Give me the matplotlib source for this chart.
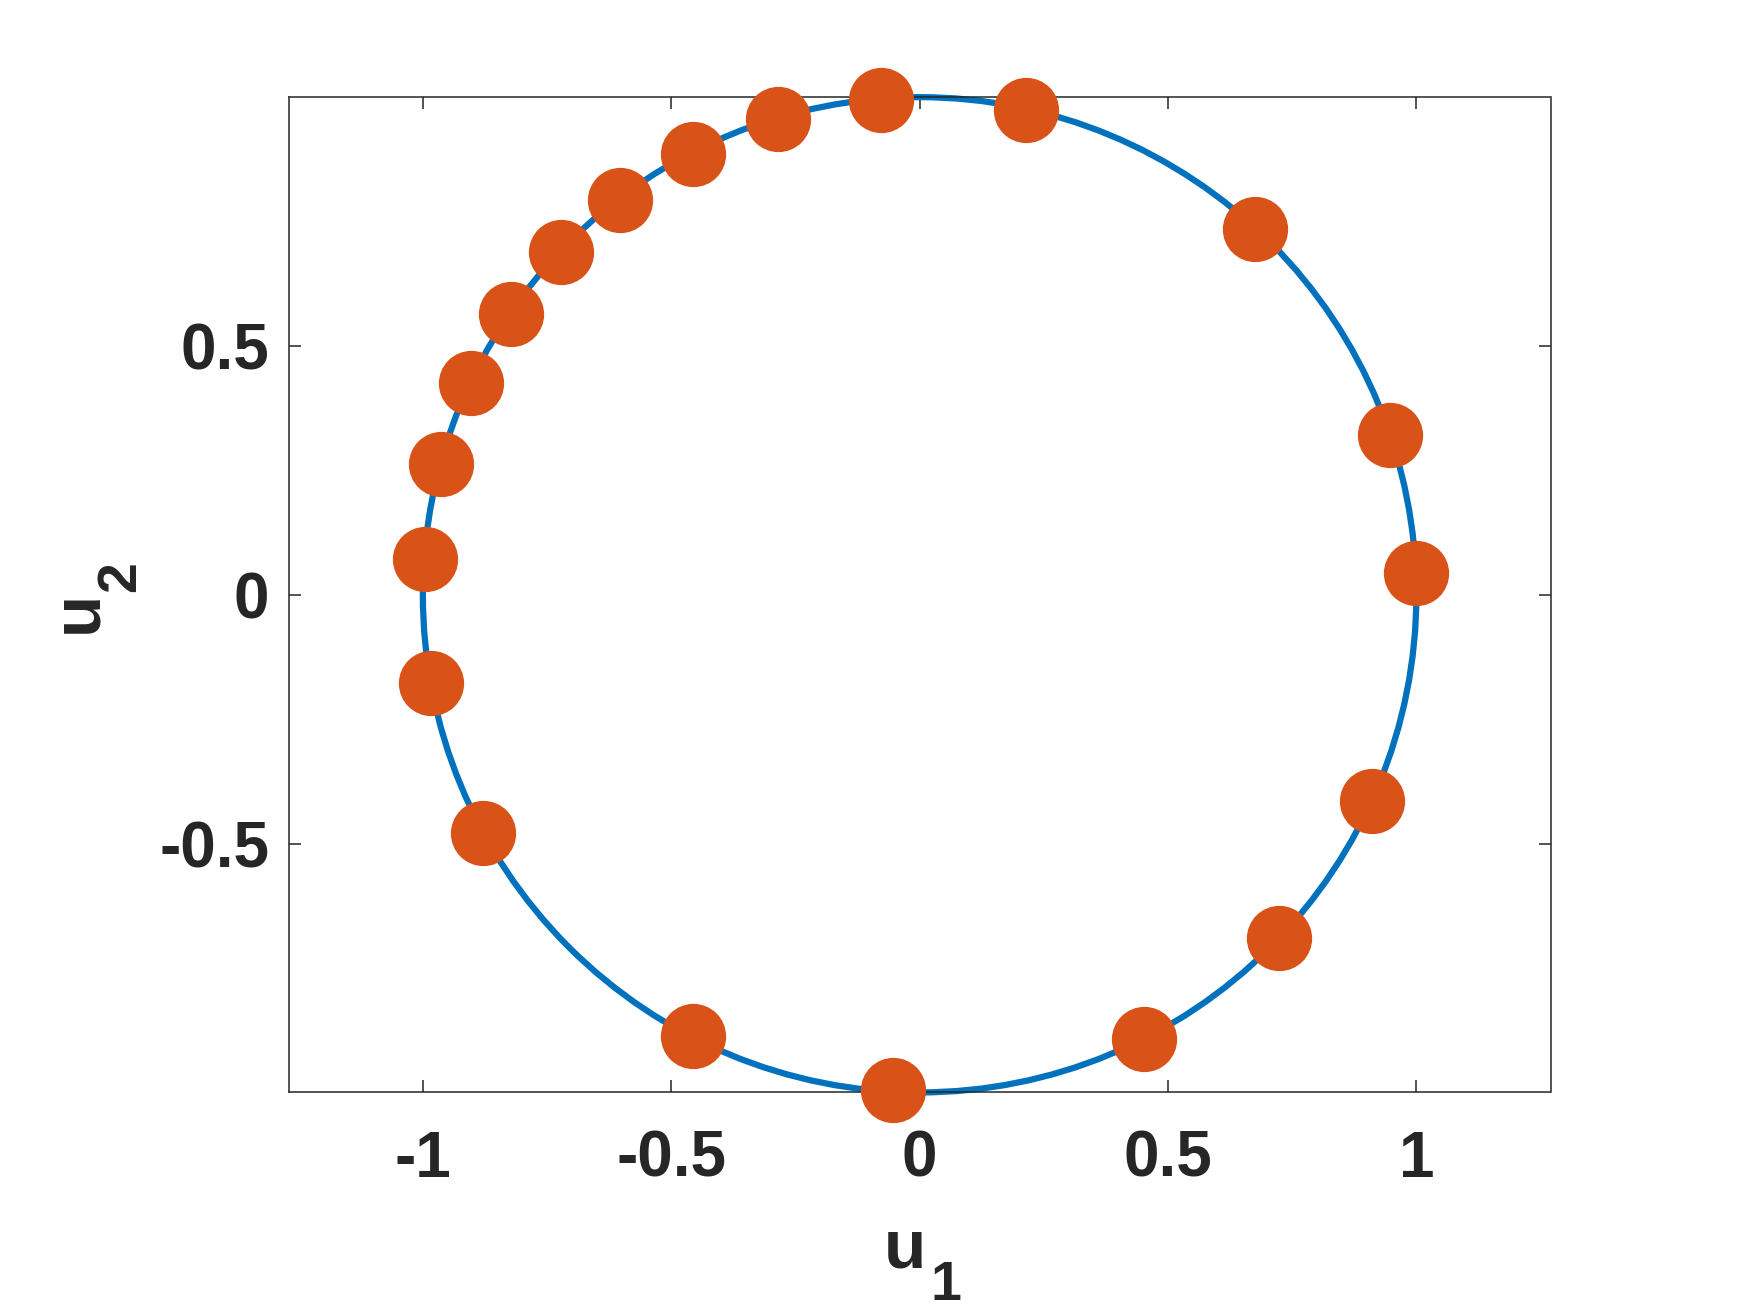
import matplotlib
matplotlib.use("Agg")
import matplotlib.pyplot as plt
from matplotlib.patches import Circle
from matplotlib import rcParams

rcParams['font.family'] = 'Liberation Sans'
rcParams['font.weight'] = 'bold'

# points on the unit circle
u1 = [-0.078, 0.215, -0.285, -0.457, -0.603, -0.722, -0.823, -0.904, -0.964, -0.996,
      -0.984, -0.879, -0.457, -0.054, 0.451, 0.724, 0.910, 1.000, 0.946, 0.675]
u2 = [0.995, 0.975, 0.957, 0.886, 0.794, 0.689, 0.564, 0.425, 0.262, 0.072,
      -0.177, -0.479, -0.886, -0.996, -0.893, -0.689, -0.414, 0.043, 0.322, 0.736]
radius = 1.0

xticks = [-1, -0.5, 0, 0.5, 1]
xticklabels = ['-1', '-0.5', '0', '0.5', '1']
yticks = [-0.5, 0, 0.5]
yticklabels = ['-0.5', '0', '0.5']

fig = plt.figure(figsize=(17.5, 13.13), dpi=100)
ax = fig.add_axes([0.165, 0.168, 0.721, 0.758])

ax.add_patch(Circle((0, 0), radius, fill=False, edgecolor='#0072BD', linewidth=4.5, clip_on=False, zorder=2))
ax.plot(u1, u2, 'o', color='#D95319', markersize=47, markeredgewidth=0, clip_on=False, zorder=3)

ax.set_xlim(-1.27, 1.27)
ax.set_ylim(-1, 1)
ax.set_xticks(xticks)
ax.set_xticklabels(xticklabels)
ax.set_yticks(yticks)
ax.set_yticklabels(yticklabels)

ax.tick_params(axis='both', direction='in', length=8.5, width=1.1, colors='#262626',
               labelsize=46, top=True, right=True)
ax.tick_params(axis='x', pad=27)
ax.tick_params(axis='y', pad=14)
for s in ax.spines.values():
    s.set_linewidth(1.1)
    s.set_color('#262626')

# axis labels: u with a large subscript, like the MATLAB original
tc = '#262626'
ax.text(0.4885, -0.176, 'u', fontsize=50, color=tc, ha='center', va='baseline', transform=ax.transAxes)
ax.text(0.5205, -0.209, '1', fontsize=40, color=tc, ha='center', va='baseline', transform=ax.transAxes)
ax.text(-0.1525, 0.483, 'u', fontsize=50, color=tc, ha='center', va='baseline', rotation=90,
        rotation_mode='anchor', transform=ax.transAxes)
ax.text(-0.122, 0.518, '2', fontsize=40, color=tc, ha='center', va='baseline', rotation=90,
        rotation_mode='anchor', transform=ax.transAxes)

plt.savefig("out.png", dpi=100)
